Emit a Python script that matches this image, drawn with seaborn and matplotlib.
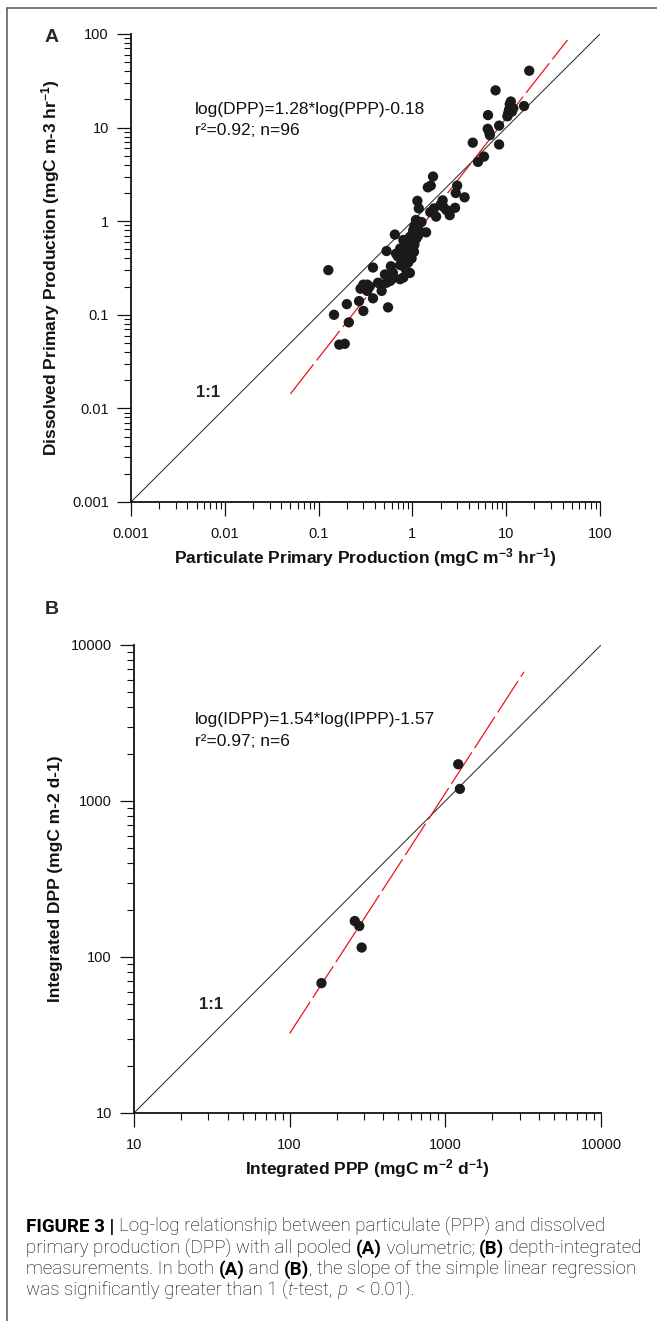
import matplotlib
matplotlib.use("Agg")
import matplotlib.pyplot as plt
from matplotlib.lines import Line2D
from matplotlib.ticker import LogLocator, NullFormatter, FixedLocator, FixedFormatter
import numpy as np
import pandas as pd
import seaborn as sns

# ---- Panel A: volumetric measurements (mgC m-3 hr-1) ----
ppp_vol = [17.6, 7.7, 11.2, 11.0, 10.7, 10.5, 11.9, 11.5, 15.5, 6.4,
           8.4, 6.35, 6.7, 8.4, 4.4, 5.8, 5.0, 1.66, 1.57, 1.46,
           3.0, 2.9, 3.6, 1.13, 1.17, 2.1, 2.13, 2.3, 2.85, 2.5,
           1.79, 1.7, 1.09, 1.16, 1.02, 1.2, 1.4, 0.94, 0.80, 0.98,
           0.74, 0.67, 0.87, 1.04, 0.80, 0.98, 0.74, 0.87, 0.94, 0.80,
           0.74, 0.65, 0.53, 0.59, 0.38, 0.127, 0.51, 0.53, 0.47, 0.60,
           0.46, 0.30, 0.35, 0.28, 0.33, 0.38, 0.27, 0.20, 0.55, 0.30,
           0.146, 0.21, 0.166, 0.19, 10.9, 10.3, 6.6, 1.05, 0.90, 1.10,
           0.85, 1.00, 0.78, 0.90, 0.83, 1.05, 0.70, 1.25, 0.62, 0.43,
           0.33, 1.55, 2.0, 0.95, 1.15, 0.58]
dpp_vol = [40.5, 25.0, 19.0, 16.7, 15.4, 14.2, 16.1, 14.8, 17.0, 13.6,
           10.5, 9.7, 8.3, 6.6, 6.9, 4.9, 4.3, 3.0, 2.4, 2.3,
           2.4, 2.0, 1.8, 1.65, 1.37, 1.67, 1.43, 1.32, 1.39, 1.16,
           1.12, 1.37, 1.03, 0.91, 0.80, 0.77, 0.76, 0.68, 0.63, 0.53,
           0.51, 0.45, 0.47, 0.47, 0.40, 0.40, 0.34, 0.29, 0.28, 0.25,
           0.24, 0.72, 0.48, 0.33, 0.32, 0.30, 0.27, 0.22, 0.18, 0.24,
           0.21, 0.21, 0.20, 0.19, 0.18, 0.15, 0.14, 0.13, 0.12, 0.11,
           0.10, 0.083, 0.048, 0.049, 17.8, 13.2, 8.9, 0.88, 0.60, 0.65,
           0.55, 0.72, 0.46, 0.36, 0.32, 0.56, 0.42, 0.98, 0.28, 0.22,
           0.21, 1.25, 1.5, 0.47, 0.70, 0.23]

# ---- Panel B: depth-integrated measurements (mgC m-2 d-1) ----
ppp_int = [160, 262, 280, 290, 1210, 1240]
dpp_int = [68, 170, 158, 115, 1720, 1195]

# Regression fits: log(DPP) = slope*log(PPP) + intercept
slope_a, icpt_a = 1.28, -0.18
slope_b, icpt_b = 1.54, -1.57
fit_span_a = [0.05, 45]
fit_span_b = [100, 3200]

ticks_a = [0.001, 0.01, 0.1, 1, 10, 100]
ticklabels_a = ["0.001", "0.01", "0.1", "1", "10", "100"]
ticks_b = [10, 100, 1000, 10000]
ticklabels_b = ["10", "100", "1000", "10000"]

sns.set_style("white")
plt.rcParams["font.family"] = ["Liberation Sans", "DejaVu Sans"]
plt.rcParams["mathtext.fontset"] = "custom"
plt.rcParams["mathtext.rm"] = "Liberation Sans"
plt.rcParams["mathtext.bf"] = "Liberation Sans:bold"
plt.rcParams["mathtext.it"] = "Liberation Sans:italic"

W, H = 657, 1321
fig = plt.figure(figsize=(W / 100, H / 100), dpi=100)
fig.patch.set_facecolor("white")

axA = fig.add_axes([131 / W, 1 - 502 / H, 469 / W, 468 / H])
axB = fig.add_axes([134 / W, 1 - 1113 / H, 467 / W, 468 / H])

INK = "#111111"


def fit_line(span, slope, icpt):
    x = np.array(span, dtype=float)
    return pd.DataFrame({"x": x, "y": 10 ** (slope * np.log10(x) + icpt)})


def style_axis(ax, lims, ticks, labels):
    ax.set_xscale("log")
    ax.set_yscale("log")
    ax.set_xlim(*lims)
    ax.set_ylim(*lims)
    for s in ("top", "right"):
        ax.spines[s].set_visible(False)
    for s in ("left", "bottom"):
        ax.spines[s].set_linewidth(1.3)
        ax.spines[s].set_color(INK)
    for axis in (ax.xaxis, ax.yaxis):
        axis.set_major_locator(FixedLocator(ticks))
        axis.set_major_formatter(FixedFormatter(labels))
        axis.set_minor_locator(LogLocator(base=10, subs=np.arange(2, 10), numticks=20))
        axis.set_minor_formatter(NullFormatter())
    ax.tick_params(which="both", bottom=True, left=True, top=False, right=False,
                   direction="out", color=INK)
    ax.tick_params(which="major", length=10, width=0.9, labelsize=10.5, pad=6,
                   labelcolor=INK)
    ax.tick_params(axis="x", which="major", pad=8)
    ax.tick_params(which="minor", length=5, width=0.8)
    ax.grid(False)
    ax.set_facecolor("white")


def draw_panel(ax, x, y, lims, span, slope, icpt):
    one = pd.DataFrame({"x": lims, "y": lims})
    sns.lineplot(data=one, x="x", y="y", ax=ax, color="#222222", lw=0.7)
    fit = fit_line(span, slope, icpt)
    sns.lineplot(data=fit, x="x", y="y", ax=ax, color="#e8141c", lw=0.9,
                 linestyle=(0, (30, 4)))
    pts = pd.DataFrame({"x": x, "y": y})
    sns.scatterplot(data=pts, x="x", y="y", ax=ax, s=55, color="#1a1a1a",
                    edgecolor="none", zorder=3)


LBL = 12.5
EQ = 12.5

# Panel A
draw_panel(axA, ppp_vol, dpp_vol, [0.001, 100], fit_span_a, slope_a, icpt_a)
style_axis(axA, (0.001, 100), ticks_a, ticklabels_a)
axA.set_xlabel(r"Particulate Primary Production (mgC m$^{\mathbf{-3}}$ hr$^{\mathbf{-1}}$)",
               fontsize=LBL, fontweight="bold", color=INK)
axA.set_ylabel(r"Dissolved Primary Production (mgC m-3 hr$^{\mathbf{-1}}$)",
               fontsize=LBL, fontweight="bold", color=INK)
axA.xaxis.set_label_coords(0.5, -0.094)
axA.yaxis.set_label_coords(-0.147, 0.5)
axA.text(0.1365, 0.838, "log(DPP)=1.28*log(PPP)-0.18", transform=axA.transAxes,
         fontsize=EQ, va="center", ha="left", color=INK)
axA.text(0.1365, 0.793, "r²=0.92; n=96", transform=axA.transAxes,
         fontsize=EQ, va="center", ha="left", color=INK)
axA.text(0.164, 0.233, "1:1", transform=axA.transAxes, fontsize=12,
         fontweight="bold", va="center", ha="center", color="#222222")

# Panel B
draw_panel(axB, ppp_int, dpp_int, [10, 10000], fit_span_b, slope_b, icpt_b)
style_axis(axB, (10, 10000), ticks_b, ticklabels_b)
axB.set_xlabel(r"Integrated PPP (mgC m$^{\mathbf{-2}}$ d$^{\mathbf{-1}}$)",
               fontsize=LBL, fontweight="bold", color=INK)
axB.set_ylabel("Integrated DPP (mgC m-2 d-1)",
               fontsize=LBL, fontweight="bold", color=INK)
axB.xaxis.set_label_coords(0.5, -0.094)
axB.yaxis.set_label_coords(-0.152, 0.5)
axB.text(0.1306, 0.840, "log(IDPP)=1.54*log(IPPP)-1.57", transform=axB.transAxes,
         fontsize=EQ, va="center", ha="left", color=INK)
axB.text(0.1306, 0.793, "r²=0.97; n=6", transform=axB.transAxes,
         fontsize=EQ, va="center", ha="left", color=INK)
axB.text(0.165, 0.231, "1:1", transform=axB.transAxes, fontsize=12,
         fontweight="bold", va="center", ha="center", color="#222222")

# Panel letters
fig.text(52 / W, 1 - 37 / H, "A", fontsize=14, fontweight="bold", ha="center", va="center")
fig.text(52 / W, 1 - 610 / H, "B", fontsize=14, fontweight="bold", ha="center", va="center")

# Frame on the top and left edge
fig.add_artist(Line2D([7 / W, 1], [1 - 8 / H, 1 - 8 / H], transform=fig.transFigure,
                      color="#555555", lw=1.1))
fig.add_artist(Line2D([7 / W, 7 / W], [0, 1 - 8 / H], transform=fig.transFigure,
                      color="#555555", lw=1.1))

# Caption with mixed weights
cap_font = ["Roboto", "DejaVu Sans"]
cap_size = 13.5
caption = [
    [("FIGURE 3 | ", "bold", "normal"),
     ("Log-log relationship between particulate (PPP) and dissolved", "light", "normal")],
    [("primary production (DPP) with all pooled ", "light", "normal"), ("(A)", "bold", "normal"),
     (" volumetric; ", "light", "normal"), ("(B)", "bold", "normal"),
     (" depth-integrated", "light", "normal")],
    [("measurements. In both ", "light", "normal"), ("(A)", "bold", "normal"),
     (" and ", "light", "normal"), ("(B)", "bold", "normal"),
     (", the slope of the simple linear regression", "light", "normal")],
    [("was significantly greater than 1 (", "light", "normal"), ("t", "light", "italic"),
     ("-test, ", "light", "normal"), ("p", "light", "italic"),
     ("  < 0.01).", "light", "normal")],
]
line_y = [1226.7, 1248.3, 1269.3, 1290.0]
renderer = fig.canvas.get_renderer()
for segs, yy in zip(caption, line_y):
    x = 26.0
    for txt, weight, style in segs:
        t = fig.text(x / W, 1 - yy / H, txt, fontsize=cap_size, fontweight=weight,
                     fontstyle=style, family=cap_font, va="center", ha="left",
                     color="#000000")
        bb = t.get_window_extent(renderer=renderer)
        x += bb.width

fig.savefig("out.png", dpi=100, facecolor="white")
